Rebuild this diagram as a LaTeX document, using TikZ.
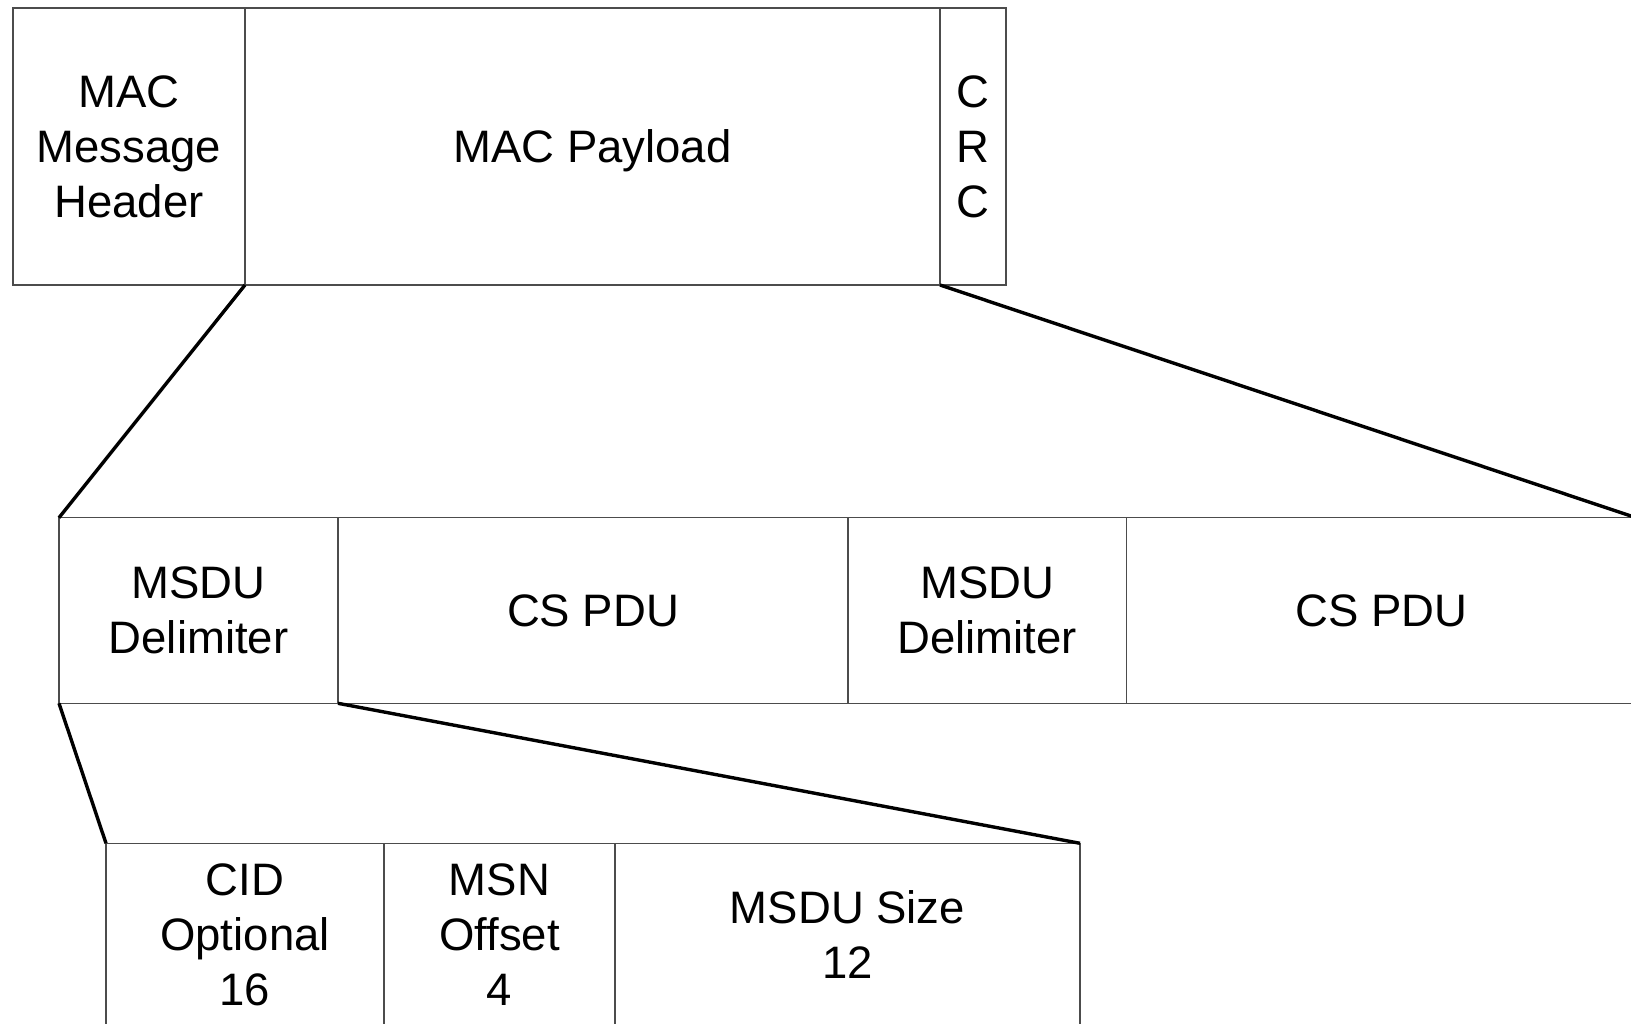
\documentclass[tikz,border=0pt]{standalone}
\usepackage{fontspec}
\setmainfont{Liberation Sans}
\begin{document}
\begin{tikzpicture}[x=1pt,y=-1pt,
  cell/.style={draw=black!70, line width=1.2pt, rectangle, inner sep=0pt, outer sep=0pt,
    anchor=north west, align=center, font=\fontsize{45.5}{55}\selectfont},
  link/.style={draw=black, line width=3.4pt}]
\useasboundingbox (0,0) rectangle (1631,1024);
\clip (0,0) rectangle (1631,1024);
% top row
\node[cell, minimum width=232pt, minimum height=277pt] (hdr) at (13,8) {MAC\\Message\\Header};
\node[cell, minimum width=695pt, minimum height=277pt] (pay) at (245,8) {};
\node[font=\fontsize{45.5}{55}\selectfont, yshift=-4pt] (paytxt) at (pay.center) {MAC Payload};
\node[cell, minimum width=66pt, minimum height=277pt] (crc) at (940,8) {C\\R\\C};
% middle row
\node[cell, minimum width=279pt, minimum height=185.6pt] (d1) at (59,517.7) {MSDU\\Delimiter};
\node[cell, minimum width=510pt, minimum height=185.6pt] (p1) at (338,517.7) {CS PDU};
\node[cell, minimum width=278.5pt, minimum height=185.6pt] (d2) at (848,517.7) {MSDU\\Delimiter};
\node[cell, minimum width=509.5pt, minimum height=185.6pt] (p2) at (1126.5,517.7) {CS PDU};
% bottom row
\node[cell, minimum width=278pt, minimum height=183pt] (cid) at (106,843.3) {CID\\Optional\\16};
\node[cell, minimum width=231pt, minimum height=183pt] (msn) at (384,843.3) {MSN\\Offset\\4};
\node[cell, minimum width=465pt, minimum height=183pt] (size) at (615,843.3) {MSDU Size\\12};
% connectors
\draw[link] (pay.south west) -- (d1.north west);
\draw[link] (pay.south east) -- (p2.north east);
\draw[link] (d1.south west) -- (cid.north west);
\draw[link] (d1.south east) -- (size.north east);
\end{tikzpicture}
\end{document}
